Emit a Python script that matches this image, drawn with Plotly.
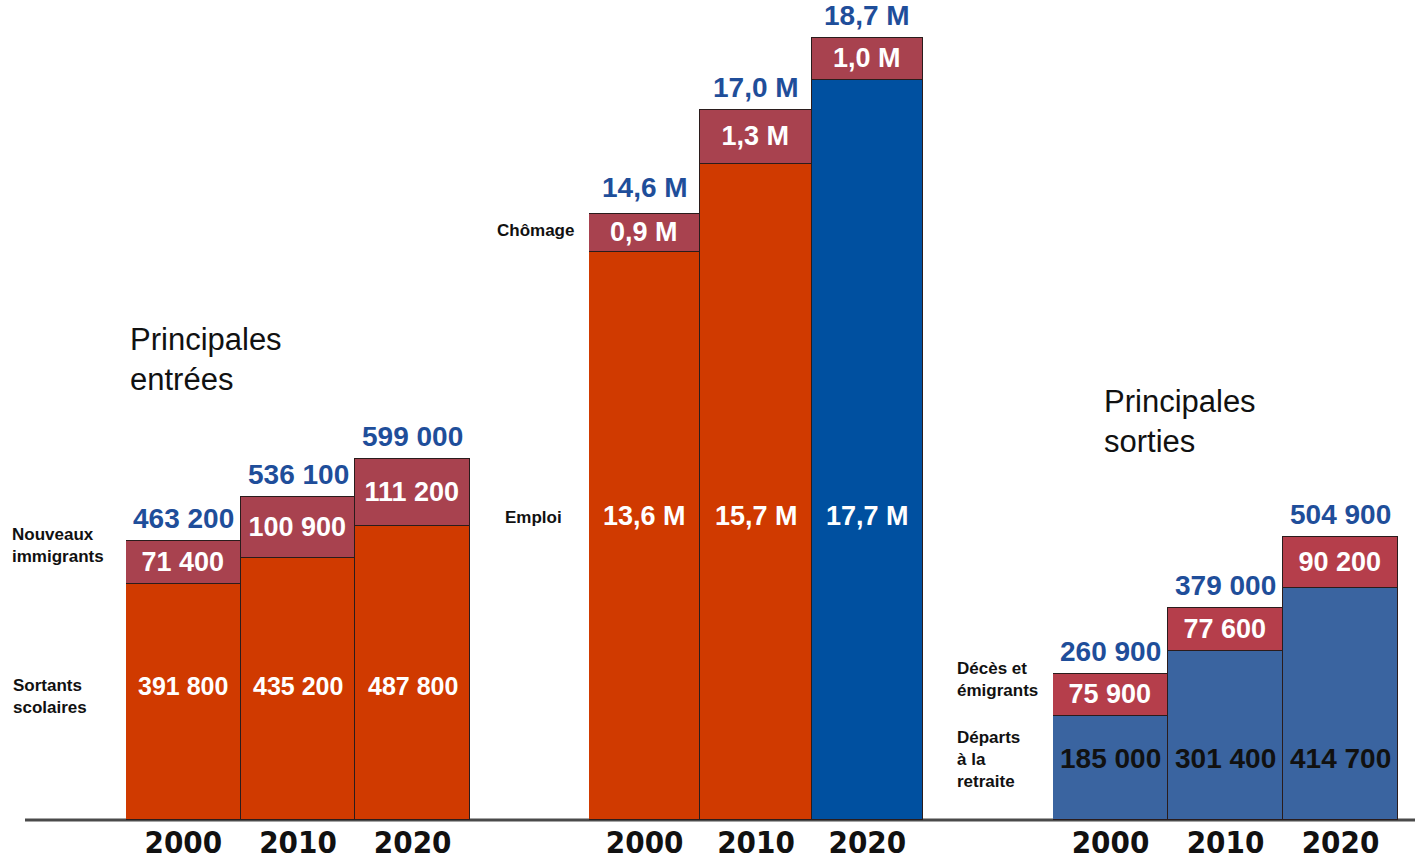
import plotly.graph_objects as go

# ---------------- data ----------------
years = ["2000", "2010", "2020"]

entrees_sortants_scolaires = [391800, 435200, 487800]
entrees_nouveaux_immigrants = [71400, 100900, 111200]
entrees_total = [463200, 536100, 599000]

pop_emploi = [13.6, 15.7, 17.7]          # millions
pop_chomage = [0.9, 1.3, 1.0]            # millions
pop_total = [14.6, 17.0, 18.7]           # millions

sorties_retraite = [185000, 301400, 414700]
sorties_deces_emigrants = [75900, 77600, 90200]
sorties_total = [260900, 379000, 504900]

# ---------------- styles ----------------
W, H = 1415, 862
BASE_PX = 820  # baseline pixel row

ORANGE = "#D03A00"
MAUVE = "#A8424F"
BLUE_DARK = "#0050A0"
BLUE_MID = "#3A64A0"
RED_SORT = "#B53E4B"
TOTAL_BLUE = "#1F4E9A"
EDGE = "#2a1c1c"

BOLD = "Liberation Sans, Arial, sans-serif"
COND = "DejaVu Sans Condensed, DejaVu Sans, sans-serif"


def fmt_int(v):
    return f"{v:,}".replace(",", " ")


def fmt_m(v):
    return f"{v:.1f} M".replace(".", ",")


def px_x(p):
    return p / W


def px_y(p):
    return (BASE_PX - p) / BASE_PX


fig = go.Figure()

groups = [
    dict(x="x", y="y", lower=entrees_sortants_scolaires, upper=entrees_nouveaux_immigrants,
         total=entrees_total, fmt=fmt_int, lower_col=[ORANGE] * 3, upper_col=[MAUVE] * 3,
         lower_txt="white", lower_size=25, lower_row=686),
    dict(x="x2", y="y2", lower=pop_emploi, upper=pop_chomage,
         total=pop_total, fmt=fmt_m, lower_col=[ORANGE, ORANGE, BLUE_DARK], upper_col=[MAUVE] * 3,
         lower_txt="white", lower_size=27, lower_row=516),
    dict(x="x3", y="y3", lower=sorties_retraite, upper=sorties_deces_emigrants,
         total=sorties_total, fmt=fmt_int, lower_col=[BLUE_MID] * 3, upper_col=[RED_SORT] * 3,
         lower_txt="#111111", lower_size=28, lower_row=758),
]

annotations = []
for g in groups:
    fig.add_trace(go.Bar(
        x=years, y=g["lower"], xaxis=g["x"], yaxis=g["y"],
        marker=dict(color=g["lower_col"], line=dict(color=EDGE, width=1.5)),
        hoverinfo="skip", showlegend=False,
    ))
    fig.add_trace(go.Bar(
        x=years, y=g["upper"], xaxis=g["x"], yaxis=g["y"],
        marker=dict(color=g["upper_col"], line=dict(color=EDGE, width=1.5)),
        text=[g["fmt"](v) for v in g["upper"]],
        textposition="inside", insidetextanchor="middle", textangle=0,
        constraintext="none",
        textfont=dict(family=BOLD, size=27, color="white", weight="bold"),
        hoverinfo="skip", showlegend=False,
    ))
    # category axes: annotations use the category serial number
    for ci, (lv, tv) in enumerate(zip(g["lower"], g["total"])):
        annotations.append(dict(
            x=ci, xref=g["x"], y=px_y(g["lower_row"]), yref=g["y"] + " domain",
            text="<b>" + g["fmt"](lv) + "</b>", showarrow=False, xanchor="center", yanchor="middle",
            font=dict(family=BOLD, size=g["lower_size"], color=g["lower_txt"]),
        ))
        annotations.append(dict(
            x=ci, xref=g["x"], y=tv, yref=g["y"],
            text="<b>" + g["fmt"](tv) + "</b>", showarrow=False, xanchor="center", yanchor="bottom",
            yshift=5,
            font=dict(family=BOLD, size=28, color=TOTAL_BLUE),
        ))

# side labels
side = [
    ("Principales<br>entrées", 128, 360, 31, False),
    ("Principales<br>sorties", 1102, 421, 31, False),
    ("Nouveaux<br>immigrants", 10, 546, 17, True),
    ("Sortants<br>scolaires", 11, 696, 17, True),
    ("Chômage", 495, 230, 17, True),
    ("Emploi", 503, 517, 17, True),
    ("Décès et<br>émigrants", 955, 679, 17, True),
    ("Départs<br>à la<br>retraite", 955, 759, 17, True),
]
for txt, x, y, s, b in side:
    annotations.append(dict(
        x=px_x(x), y=px_y(y), xref="paper", yref="paper",
        text=("<b>" + txt + "</b>") if b else txt, showarrow=False,
        xanchor="left", yanchor="middle", align="left",
        font=dict(family=BOLD, size=s, color="#111111"),
    ))

xdomains = [(126, 470), (589, 923), (1053, 1398)]
yranges = [[0, 1.36e6], [0, 19.62], [0, 1.464e6]]

layout = dict(
    width=W, height=H,
    margin=dict(l=0, r=0, t=0, b=H - BASE_PX, autoexpand=False),
    paper_bgcolor="white", plot_bgcolor="white",
    barmode="stack", bargap=0,
    annotations=annotations,
    shapes=[dict(type="line", xref="paper", yref="paper", x0=px_x(25), x1=1, y0=0, y1=0,
                 line=dict(color="#4a4a4a", width=3), layer="below")],
)
for i, (d, r) in enumerate(zip(xdomains, yranges)):
    sx = "" if i == 0 else str(i + 1)
    layout["xaxis" + sx] = dict(
        domain=[px_x(d[0]), px_x(d[1])], anchor="y" + sx, type="category",
        categoryorder="array", categoryarray=years, range=[-0.5, 2.5],
        showgrid=False, zeroline=False, showline=False, ticks="",
        tickfont=dict(family=COND, size=31, color="#111111", weight="bold"),
        ticklabelstandoff=1,
        automargin=False, fixedrange=True,
    )
    layout["yaxis" + sx] = dict(
        domain=[0, 1], anchor="x" + sx, range=r, visible=False, fixedrange=True,
        automargin=False,
    )

fig.update_layout(**layout)
fig.write_html("out.html")
